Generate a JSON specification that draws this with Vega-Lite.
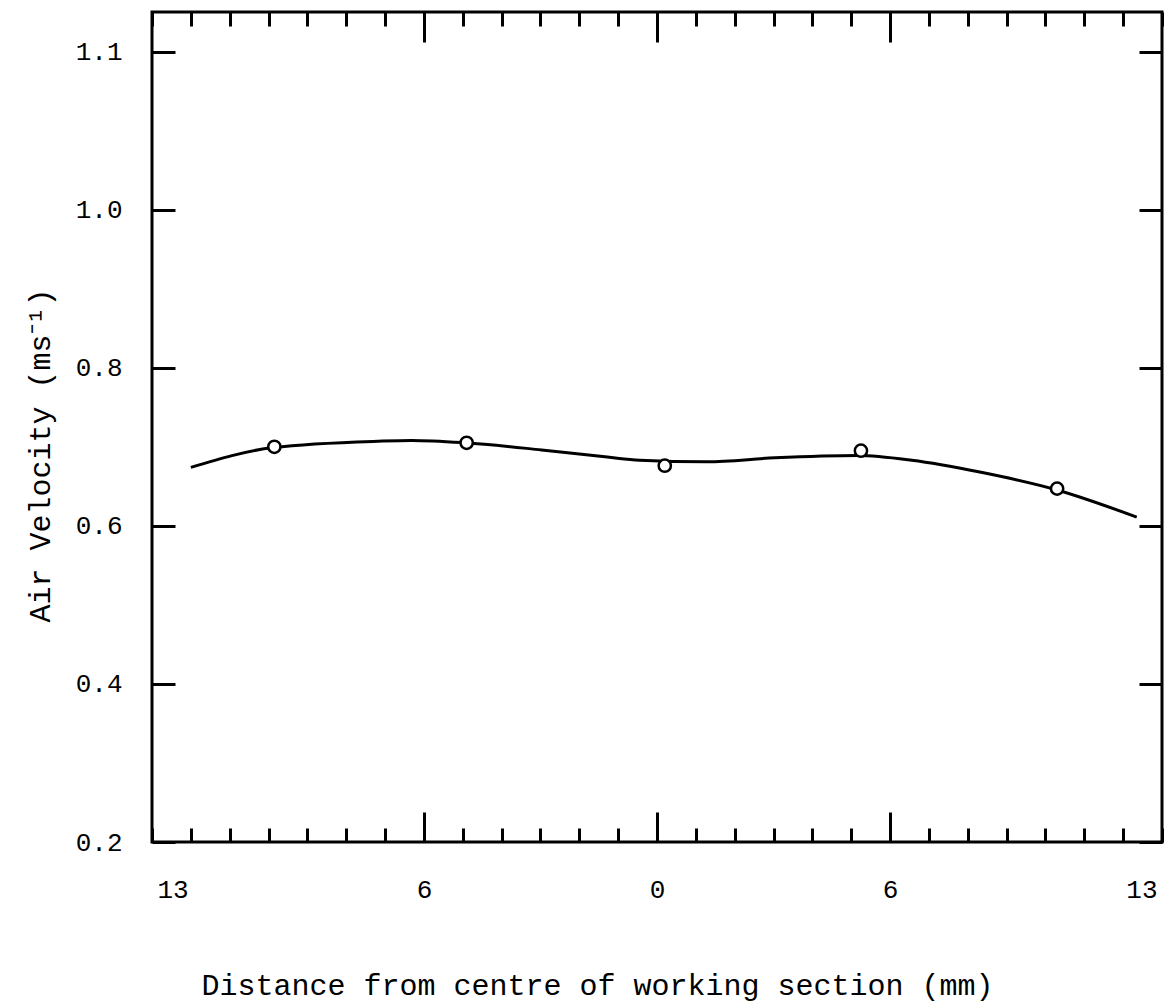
{
  "$schema": "https://vega.github.io/schema/vega-lite/v6.json",
  "autosize": {"type": "none"},
  "padding": {"left": 152, "top": 12, "right": 13, "bottom": 166},
  "width": 1010,
  "height": 830,
  "background": "white",
  "config": {
    "view": {"stroke": "black", "strokeWidth": 3},
    "axis": {
      "grid": false,
      "domain": false,
      "tickColor": "black",
      "tickWidth": 3,
      "labelFont": "Liberation Mono",
      "labelFontSize": 26,
      "labelColor": "black",
      "titleFont": "Liberation Mono",
      "titleFontSize": 30,
      "titleFontWeight": "normal",
      "titleColor": "black"
    }
  },
  "datasets": {
    "curve": [
      {"x": -12.0, "v": 0.674},
      {"x": -9.88, "v": 0.699},
      {"x": -7.18, "v": 0.707},
      {"x": -6.32, "v": 0.708},
      {"x": -4.94, "v": 0.705},
      {"x": -2.97, "v": 0.696},
      {"x": -1.28, "v": 0.687},
      {"x": -0.45, "v": 0.683},
      {"x": 1.28, "v": 0.681},
      {"x": 3.03, "v": 0.686},
      {"x": 5.17, "v": 0.689},
      {"x": 6.56, "v": 0.683},
      {"x": 8.31, "v": 0.668},
      {"x": 10.32, "v": 0.645},
      {"x": 12.35, "v": 0.611}
    ],
    "points": [
      {"x": -9.85, "v": 0.700},
      {"x": -4.9, "v": 0.705},
      {"x": 0.2, "v": 0.676},
      {"x": 5.25, "v": 0.695},
      {"x": 10.3, "v": 0.647}
    ]
  },
  "layer": [
    {
      "data": {"name": "curve"},
      "mark": {"type": "line", "interpolate": "monotone", "color": "black", "strokeWidth": 3},
      "encoding": {
        "x": {
          "field": "x", "type": "quantitative",
          "scale": {"domain": [-13, 13], "nice": false, "zero": false},
          "axis": {
            "orient": "bottom",
            "offset": -30,
            "title": "Distance from centre of working section  (mm)",
            "values": [-13,-12,-11,-10,-9,-8,-7,-6,-5,-4,-3,-2,-1,0,1,2,3,4,5,6,7,8,9,10,11,12,13],
            "labelExpr": "indexof([-13,-6,0,6,13], datum.value) >= 0 ? format(abs(datum.value), 'd') : ''",
            "tickSize": 30,
            "tickDash": {"condition": {"test": "indexof([-6,0,6], datum.value) >= 0", "value": [30, 0]}, "value": [0, 16, 14, 0]},
            "labelPadding": 34,
            "labelBaseline": "top",
            "labelFlush": true,
            "labelFlushOffset": -5,
            "titleX": 445,
            "titleY": 173,
            "titleAnchor": null,
            "titleBaseline": "middle"
          }
        },
        "y": {
          "field": "v", "type": "quantitative",
          "scale": {"domain": [0.2, 1.25], "nice": false, "zero": false},
          "axis": {
            "orient": "left",
            "offset": -23,
            "title": "Air Velocity (ms⁻¹)",
            "values": [0.2, 0.4, 0.6, 0.8, 1.0, 1.2],
            "labelExpr": "datum.value > 1.15 ? '1.1' : format(datum.value, '.1f')",
            "tickSize": 23,
            "labelPadding": 30,
            "titleX": -135,
            "titleY": 443,
            "titleAngle": -90,
            "titleAlign": "center",
            "titleBaseline": "middle"
          }
        }
      }
    },
    {
      "data": {"name": "points"},
      "mark": {"type": "point", "shape": "circle", "filled": true, "fill": "white", "stroke": "black", "strokeWidth": 2.5, "size": 150, "opacity": 1},
      "encoding": {
        "x": {
          "field": "x", "type": "quantitative",
          "axis": {
            "orient": "top",
            "offset": -30,
            "title": null,
            "labels": false,
            "values": [-13,-12,-11,-10,-9,-8,-7,-6,-5,-4,-3,-2,-1,0,1,2,3,4,5,6,7,8,9,10,11,12,13],
            "tickSize": 30,
            "tickDash": {"condition": {"test": "indexof([-6,0,6], datum.value) >= 0", "value": [30, 0]}, "value": [0, 16, 14, 0]}
          }
        },
        "y": {
          "field": "v", "type": "quantitative",
          "axis": {
            "orient": "right",
            "offset": -23,
            "title": null,
            "labels": false,
            "values": [0.2, 0.4, 0.6, 0.8, 1.0, 1.2],
            "tickSize": 23
          }
        }
      }
    }
  ],
  "resolve": {"axis": {"x": "independent", "y": "independent"}}
}
